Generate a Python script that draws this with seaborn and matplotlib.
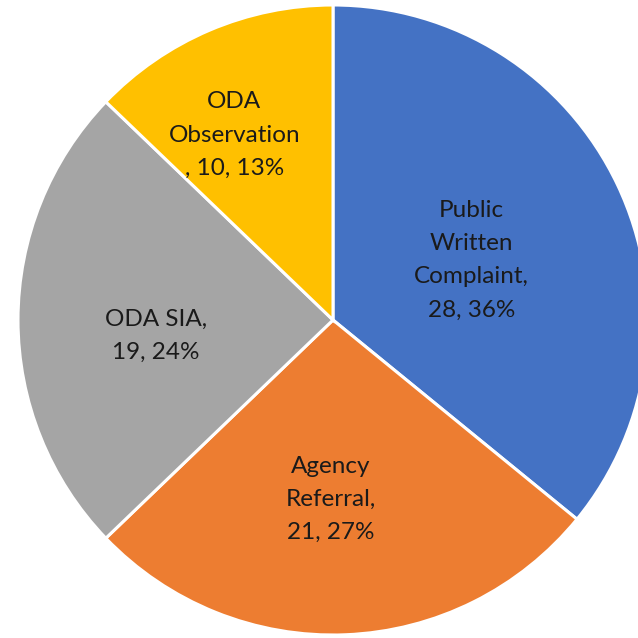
import numpy as np
import seaborn as sns
import matplotlib.pyplot as plt

# data
categories = ["Public\nWritten\nComplaint", "Agency\nReferral", "ODA SIA", "ODA\nObservation"]
counts = [28, 21, 19, 10]
separators = [",\n", ",\n", ",\n", "\n, "]
colors = ["#4472C4", "#ED7D31", "#A5A5A5", "#FFC000"]

sns.set_theme(style="white")
plt.rcParams['font.family'] = ['Lato', 'DejaVu Sans']

fig = plt.figure(figsize=(6.38, 6.38), dpi=100)
ax = fig.add_axes([0, 0, 1, 1])

wedges, _ = ax.pie(counts, colors=colors, startangle=90, counterclock=False,
                   radius=1.0, wedgeprops=dict(edgecolor="white", linewidth=2.2))

total = sum(counts)
# label placement: distance from centre and small angle nudge (degrees)
label_r = [0.48, 0.57, 0.565, 0.665]
label_nudge = [-2, -3, 5, 5]
for w, name, v, sep, r, dn in zip(wedges, categories, counts, separators, label_r, label_nudge):
    mid = np.deg2rad((w.theta1 + w.theta2) / 2 + dn)
    pct = round(v / total * 100)
    ax.text(r * np.cos(mid), r * np.sin(mid), f"{name}{sep}{v}, {pct}%",
            ha="center", va="center", fontsize=17.5, color="#1a1a1a",
            linespacing=1.72)

ax.set_xlim(-333 / 315, (638 - 333) / 315)
ax.set_ylim(-(638 - 320) / 315, 320 / 315)
ax.set_aspect("equal")
ax.axis("off")

fig.savefig("out.png", dpi=100)
